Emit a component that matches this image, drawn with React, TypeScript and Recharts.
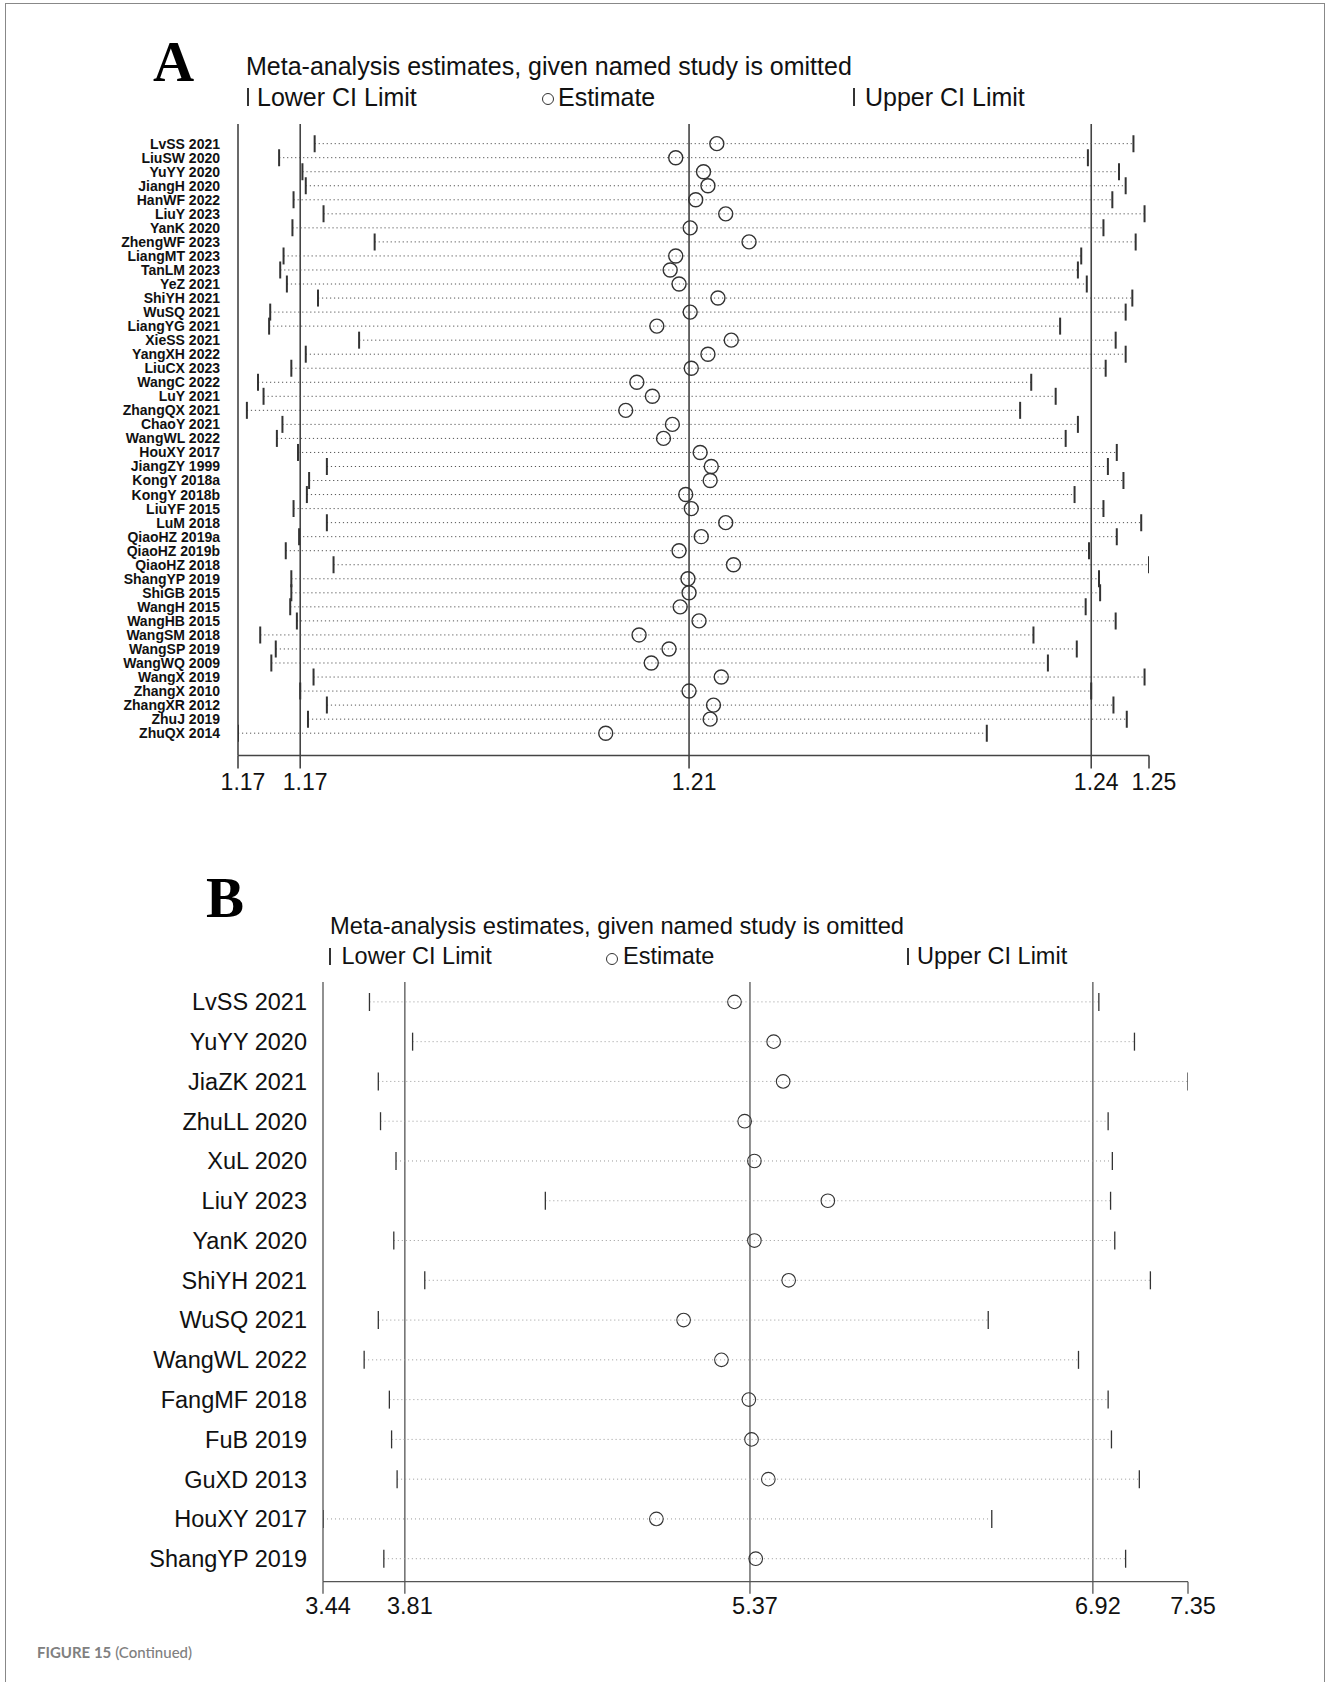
import React from "react";
import {
  ScatterChart,
  Scatter,
  XAxis,
  YAxis,
  ReferenceLine,
} from "recharts";

// panel A: leave-one-out estimates
const studiesA = [
  "LvSS 2021", "LiuSW 2020", "YuYY 2020", "JiangH 2020", "HanWF 2022", "LiuY 2023",
  "YanK 2020", "ZhengWF 2023", "LiangMT 2023", "TanLM 2023", "YeZ 2021", "ShiYH 2021",
  "WuSQ 2021", "LiangYG 2021", "XieSS 2021", "YangXH 2022", "LiuCX 2023", "WangC 2022",
  "LuY 2021", "ZhangQX 2021", "ChaoY 2021", "WangWL 2022", "HouXY 2017", "JiangZY 1999",
  "KongY 2018a", "KongY 2018b", "LiuYF 2015", "LuM 2018", "QiaoHZ 2019a", "QiaoHZ 2019b",
  "QiaoHZ 2018", "ShangYP 2019", "ShiGB 2015", "WangH 2015", "WangHB 2015", "WangSM 2018",
  "WangSP 2019", "WangWQ 2009", "WangX 2019", "ZhangX 2010", "ZhangXR 2012", "ZhuJ 2019",
  "ZhuQX 2014",
];
const lowerA = [
  1.1733, 1.1701, 1.1722, 1.1725, 1.1714, 1.1741, 1.1713, 1.1787, 1.1705, 1.1702,
  1.1708, 1.1736, 1.1693, 1.1692, 1.1773, 1.1725, 1.1712, 1.1682, 1.1687, 1.1672,
  1.1704, 1.1699, 1.1718, 1.1744, 1.1728, 1.1726, 1.1714, 1.1744, 1.1719, 1.1707,
  1.175, 1.1712, 1.1712, 1.1711, 1.1717, 1.1684, 1.1698, 1.1694, 1.1732, 1.172,
  1.1744, 1.1727, 1.1664,
];
const estA = [
  1.2095, 1.2058, 1.2083, 1.2087, 1.2076, 1.2103, 1.2071, 1.2124, 1.2058, 1.2053,
  1.2061, 1.2096, 1.2071, 1.2041, 1.2108, 1.2087, 1.2072, 1.2023, 1.2037, 1.2013,
  1.2055, 1.2047, 1.208, 1.209, 1.2089, 1.2067, 1.2072, 1.2103, 1.2081, 1.2061,
  1.211, 1.2069, 1.207, 1.2062, 1.2079, 1.2025, 1.2052, 1.2036, 1.2099, 1.207,
  1.2092, 1.2089, 1.1995,
];
const upperA = [
  1.247, 1.2429, 1.2457, 1.2463, 1.2451, 1.248, 1.2443, 1.2472, 1.2423, 1.242,
  1.2428, 1.2469, 1.2463, 1.2404, 1.2454, 1.2463, 1.2445, 1.2378, 1.24, 1.2368,
  1.242, 1.2409, 1.2455, 1.2447, 1.2461, 1.2417, 1.2443, 1.2477, 1.2455, 1.243,
  1.2484, 1.2439, 1.244, 1.2427, 1.2454, 1.238, 1.2419, 1.2393, 1.248, 1.2432,
  1.2452, 1.2464, 1.2338,
];
// combined lower, estimate, upper
const pooledA = [1.172, 1.207, 1.2432];
const ticksA = [1.1664, 1.172, 1.207, 1.2432, 1.2484];

// panel B
const studiesB = [
  "LvSS 2021", "YuYY 2020", "JiaZK 2021", "ZhuLL 2020", "XuL 2020", "LiuY 2023",
  "YanK 2020", "ShiYH 2021", "WuSQ 2021", "WangWL 2022", "FangMF 2018", "FuB 2019",
  "GuXD 2013", "HouXY 2017", "ShangYP 2019",
];
const lowerB = [3.65, 3.845, 3.69, 3.7, 3.77, 4.445, 3.76, 3.9, 3.69, 3.626, 3.74, 3.75, 3.775, 3.44, 3.715];
const estB = [5.3, 5.477, 5.52, 5.346, 5.39, 5.722, 5.39, 5.545, 5.07, 5.241, 5.365, 5.377, 5.453, 4.947, 5.396];
const upperB = [6.947, 7.108, 7.35, 6.989, 7.008, 7.0, 7.019, 7.18, 6.447, 6.855, 6.989, 7.004, 7.13, 6.463, 7.068];
const pooledB = [3.81, 5.37, 6.92];
const ticksB = [3.44, 3.81, 5.37, 6.92, 7.35];

const FONT = "'Liberation Sans', Arial, sans-serif";

const toPts = (vals) => vals.map((v, i) => ({ x: v, y: i }));

function makeCap(h, w, color) {
  return (p) => (
    <line x1={p.cx} x2={p.cx} y1={p.cy - h / 2} y2={p.cy + h / 2} stroke={color} strokeWidth={w} />
  );
}
function makeRing(r, w, color) {
  return (p) => <circle cx={p.cx} cy={p.cy} r={r} fill="none" stroke={color} strokeWidth={w} />;
}

function InfluencePlot(props) {
  const { studies, lower, est, upper, pooled, ticks, cfg } = props;
  return (
    <ScatterChart
      width={1328}
      height={cfg.height}
      margin={{ top: cfg.top, right: cfg.right, bottom: cfg.bottom, left: 0 }}
    >
      <XAxis
        type="number"
        dataKey="x"
        domain={[ticks[0], ticks[4]]}
        ticks={ticks}
        allowDataOverflow
        tickFormatter={(v) => v.toFixed(2)}
        tickSize={cfg.tickSize}
        tickMargin={cfg.tickMargin}
        height={40}
        stroke={cfg.axis}
        strokeWidth={cfg.lineW}
        tick={{ fill: "#111", fontSize: cfg.tickFont, fontFamily: FONT, dx: 5 }}
      />
      <YAxis
        type="number"
        dataKey="y"
        reversed
        domain={cfg.yDomain}
        ticks={studies.map((_, i) => i)}
        interval={0}
        allowDataOverflow
        tickFormatter={(i) => studies[i]}
        width={cfg.yWidth}
        tickSize={0}
        tickMargin={cfg.labelGap}
        stroke={cfg.axis}
        strokeWidth={cfg.lineW}
        tick={{
          fill: "#111",
          fontSize: cfg.labelFont,
          fontWeight: cfg.labelWeight,
          fontFamily: FONT,
        }}
      />
      {pooled.map((v, k) => (
        <ReferenceLine key={"p" + k} x={v} stroke={cfg.axis} strokeWidth={cfg.lineW} />
      ))}
      {studies.map((s, i) => (
        <ReferenceLine
          key={s}
          segment={[
            { x: lower[i], y: i },
            { x: upper[i], y: i },
          ]}
          ifOverflow="visible"
          stroke={cfg.dot}
          strokeWidth={1}
          strokeDasharray={cfg.dash}
        />
      ))}
      <Scatter data={toPts(lower)} shape={makeCap(cfg.capH, cfg.capW, "#333")} isAnimationActive={false} />
      <Scatter data={toPts(upper)} shape={makeCap(cfg.capH, cfg.capW, "#333")} isAnimationActive={false} />
      <Scatter data={toPts(est)} shape={makeRing(cfg.r, cfg.ringW, "#333")} isAnimationActive={false} />
    </ScatterChart>
  );
}

function Legend(props) {
  const { top, fs, bar, lowX, ring, estX, bar2, upX } = props;
  const txt = { position: "absolute", top, fontSize: fs, lineHeight: 1, fontFamily: FONT, color: "#111", whiteSpace: "nowrap" };
  const barTop = top + fs * 0.13;
  return (
    <>
      <div style={{ position: "absolute", left: bar, top: barTop, width: 1.5, height: fs * 0.72, background: "#333" }} />
      <div style={{ ...txt, left: lowX }}>Lower CI Limit</div>
      <div
        style={{
          position: "absolute",
          left: ring - 6,
          top: top + fs * 0.34,
          width: 10,
          height: 10,
          borderRadius: "50%",
          border: "1.2px solid #333",
        }}
      />
      <div style={{ ...txt, left: estX }}>Estimate</div>
      <div style={{ position: "absolute", left: bar2, top: barTop, width: 1.5, height: fs * 0.72, background: "#333" }} />
      <div style={{ ...txt, left: upX }}>Upper CI Limit</div>
    </>
  );
}

const cfgA = {
  height: 800,
  top: 124,
  right: 179,
  bottom: 800 - 755.5 - 40,
  yWidth: 238,
  yDomain: [-1.4, 43.59],
  tickSize: 13,
  tickMargin: 5,
  tickFont: 23,
  labelFont: 14,
  labelWeight: "bold",
  labelGap: 18,
  axis: "#444",
  lineW: 1.6,
  dot: "#555",
  dash: "1.2 2.8",
  capH: 17,
  capW: 2,
  r: 7,
  ringW: 1.4,
};

const cfgB = {
  height: 740,
  top: 82,
  right: 140,
  bottom: 740 - 681.7 - 40,
  yWidth: 323,
  yDomain: [-0.5, 14.578],
  tickSize: 12,
  tickMargin: 4,
  tickFont: 23.5,
  labelFont: 23.5,
  labelWeight: "normal",
  labelGap: 16,
  axis: "#555",
  lineW: 1.3,
  dot: "#999",
  dash: "1 3",
  capH: 18,
  capW: 1.3,
  r: 6.8,
  ringW: 1.1,
};

export default function App() {
  return (
    <div style={{ position: "relative", width: 1328, height: 1682, background: "#fff", overflow: "hidden" }}>
      <style>{"body{margin:0}"}</style>
      <div
        style={{
          position: "absolute",
          left: 5,
          top: 3,
          width: 1320,
          height: 1720,
          border: "1.5px solid #888",
          boxSizing: "border-box",
        }}
      />

      <div style={{ position: "absolute", left: 0, top: 0 }}>
        <InfluencePlot
          studies={studiesA}
          lower={lowerA}
          est={estA}
          upper={upperA}
          pooled={pooledA}
          ticks={ticksA}
          cfg={cfgA}
        />
      </div>
      <div style={{ position: "absolute", left: 0, top: 900 }}>
        <InfluencePlot
          studies={studiesB}
          lower={lowerB}
          est={estB}
          upper={upperB}
          pooled={pooledB}
          ticks={ticksB}
          cfg={cfgB}
        />
      </div>

      <div style={{ position: "absolute", left: 153, top: 32.8, fontFamily: "'Liberation Serif', 'Times New Roman', serif", fontWeight: "bold", fontSize: 57, lineHeight: 1 }}>
        A
      </div>
      <div style={{ position: "absolute", left: 246, top: 53.8, fontFamily: FONT, fontSize: 25, lineHeight: 1, color: "#111", whiteSpace: "nowrap" }}>
        Meta-analysis estimates, given named study is omitted
      </div>
      <Legend top={84.8} fs={25} bar={247} lowX={257} ring={548} estX={558} bar2={853} upX={865} />

      <div style={{ position: "absolute", left: 206, top: 869.3, fontFamily: "'Liberation Serif', 'Times New Roman', serif", fontWeight: "bold", fontSize: 57, lineHeight: 1 }}>
        B
      </div>
      <div style={{ position: "absolute", left: 330, top: 915, fontFamily: FONT, fontSize: 23.7, lineHeight: 1, color: "#111", whiteSpace: "nowrap" }}>
        Meta-analysis estimates, given named study is omitted
      </div>
      <Legend top={945} fs={23.5} bar={329} lowX={341.5} ring={612} estX={623} bar2={907} upX={917} />

      <div style={{ position: "absolute", left: 37, top: 1645, fontFamily: "Lato, 'Open Sans', sans-serif", fontSize: 15, lineHeight: 1, color: "#808080", whiteSpace: "nowrap" }}>
        <span style={{ fontWeight: "bold" }}>FIGURE 15</span>{" "}
        <span style={{ fontWeight: 500 }}>(Continued)</span>
      </div>
    </div>
  );
}
